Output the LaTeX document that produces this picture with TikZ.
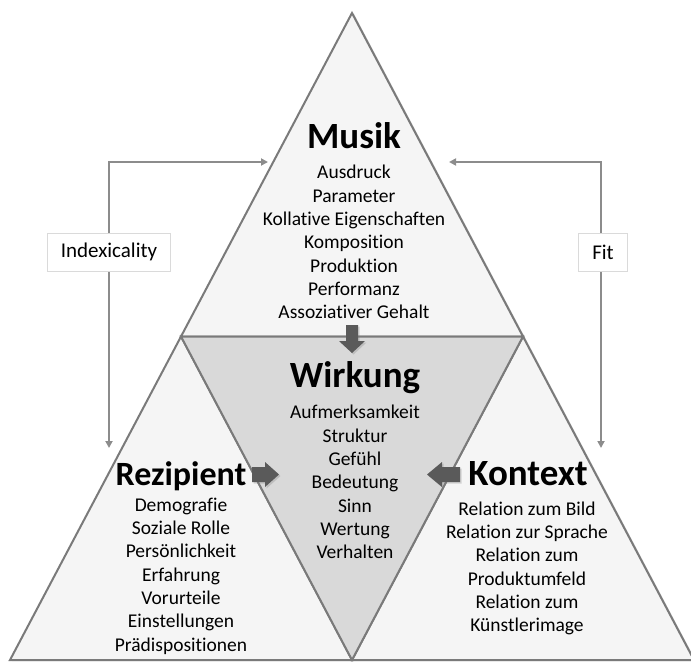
\documentclass[tikz,border=0pt]{standalone}
\usepackage{fontspec}
\setmainfont{Carlito}[Ligatures=NoCommon]
\usepackage{tikz}
\usetikzlibrary{arrows.meta,shadows}

\definecolor{edgegray}{HTML}{7A7A7A}
\definecolor{lightfill}{HTML}{F5F5F5}
\definecolor{midfill}{HTML}{D9D9D9}
\definecolor{linkgray}{HTML}{8C8C8C}
\definecolor{arrowgray}{HTML}{5A5A5A}
\definecolor{tagline}{HTML}{DADADA}

\tikzset{
  face/.style={draw=edgegray, line width=2bp, line join=miter, fill=lightfill},
  core/.style={face, fill=midfill},
  title/.style={font=\fontsize{37bp}{40bp}\selectfont\bfseries, anchor=base, inner sep=0pt},
  items/.style={font=\fontsize{19.5bp}{23.3bp}\selectfont, align=center, inner sep=0pt},
  link/.style={draw=linkgray, line width=2bp,
    {Triangle[length=7bp,width=7bp]}-{Triangle[length=7bp,width=7bp]}},
  tag/.style={draw=tagline, fill=white, line width=0.6bp,
    font=\fontsize{21bp}{25bp}\selectfont, minimum height=38bp},
  blockarrow/.style={fill=arrowgray,
    drop shadow={opacity=0.3, shadow xshift=1.5bp, shadow yshift=-1.5bp}}
}

\begin{document}
\begin{tikzpicture}[x=1bp, y=-1bp]
    \useasboundingbox (0,0) rectangle (691,662);

    % corners of the pyramid
    \coordinate (apex) at (352,13);
    \coordinate (bl) at (10,660);
    \coordinate (br) at (694,660);
    \coordinate (ml) at (181,336.5);
    \coordinate (mr) at (523,336.5);
    \coordinate (bm) at (352,660);

    \fill[black, opacity=0.18] ([xshift=2bp,yshift=-1bp]apex) -- ([xshift=2bp,yshift=-1bp]br)
        -- ([xshift=2bp,yshift=-1bp]bl) -- cycle;
    \draw[face] (apex) -- (mr) -- (ml) -- cycle;
    \draw[face] (ml) -- (bm) -- (bl) -- cycle;
    \draw[face] (mr) -- (br) -- (bm) -- cycle;
    \draw[core] (ml) -- (mr) -- (bm) -- cycle;

    % texts
    \node[title] (musik) at (354,148) {Musik};
    \node[items] (musikList) at (354,242) {Ausdruck\\Parameter\\Kollative Eigenschaften\\Komposition\\Produktion\\Performanz\\Assoziativer Gehalt};

    \node[title] (wirkung) at (355,387) {Wirkung};
    \node[items] (wirkungList) at (355,482) {Aufmerksamkeit\\Struktur\\Gefühl\\Bedeutung\\Sinn\\Wertung\\Verhalten};

    \node[title, font=\fontsize{34bp}{40bp}\selectfont\bfseries] (rezipient) at (181,485) {Rezipient};
    \node[items] (rezipientList) at (181,576) {Demografie\\Soziale Rolle\\Persönlichkeit\\Erfahrung\\Vorurteile\\Einstellungen\\Prädispositionen};

    \node[title] (kontext) at (528,485) {Kontext};
    \node[items] (kontextList) at (527,568.5) {Relation zum Bild\\Relation zur Sprache\\Relation zum\\Produktumfeld\\Relation zum\\Künstlerimage};

    % block arrows
    \fill[blockarrow] (346,325) -- (358,325) -- (358,341) -- (365,341) -- (352,353)
        -- (339,341) -- (346,341) -- cycle;
    \fill[blockarrow] (252,467) -- (265,467) -- (265,462) -- (279,474.5) -- (265,487)
        -- (265,482) -- (252,482) -- cycle;
    \fill[blockarrow] (460,467) -- (442,467) -- (442,462) -- (427,474.5) -- (442,487)
        -- (442,482) -- (460,482) -- cycle;

    % side connectors
    \coordinate (idxIn) at (268,162);
    \coordinate (idxOut) at (109,448);
    \coordinate (fitIn) at (449,162);
    \coordinate (fitOut) at (601,448);
    \draw[link] (idxIn) -| (idxOut);
    \draw[link] (fitIn) -| (fitOut);
    \node[tag, minimum width=123bp] (idx) at (109,252) {Indexicality};
    \node[tag, minimum width=49bp] (fit) at (603,252) {Fit};
\end{tikzpicture}
\end{document}
